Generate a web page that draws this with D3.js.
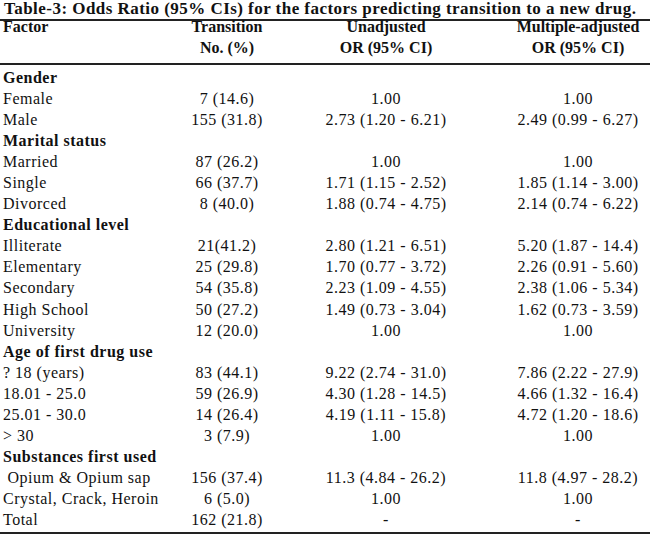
<!DOCTYPE html>
<html>
<head>
<meta charset="utf-8">
<script src="https://cdn.jsdelivr.net/npm/d3@7"></script>
<style>
  html, body { margin: 0; padding: 0; background: #fff; }
  text { font-family: "Liberation Serif", "Times New Roman", serif; fill: #111; white-space: pre; }
</style>
</head>
<body>
<svg id="tbl" width="650" height="539"></svg>
<script>
const title = 'Table-3: Odds Ratio (95% CIs) for the factors predicting transition to a new drug.';
const headTop = ['Factor', 'Transition', 'Unadjusted', 'Multiple-adjusted'];
const headBottom = ['', 'No. (%)', 'OR (95% CI)', 'OR (95% CI)'];
const groups = ['Gender', 'Marital status', 'Educational level', 'Age of first drug use', 'Substances first used'];
const factors = ['Gender', 'Female', 'Male', 'Marital status', 'Married', 'Single', 'Divorced',
  'Educational level', 'Illiterate', 'Elementary', 'Secondary', 'High School', 'University',
  'Age of first drug use', '? 18 (years)', '18.01 - 25.0', '25.01 - 30.0', '> 30',
  'Substances first used', ' Opium & Opium sap', 'Crystal, Crack, Heroin', 'Total'];
const transition = ['', '7 (14.6)', '155 (31.8)', '', '87 (26.2)', '66 (37.7)', '8 (40.0)',
  '', '21(41.2)', '25 (29.8)', '54 (35.8)', '50 (27.2)', '12 (20.0)',
  '', '83 (44.1)', '59 (26.9)', '14 (26.4)', '3 (7.9)',
  '', '156 (37.4)', '6 (5.0)', '162 (21.8)'];
const unadjusted = ['', '1.00', '2.73 (1.20 - 6.21)', '', '1.00', '1.71 (1.15 - 2.52)', '1.88 (0.74 - 4.75)',
  '', '2.80 (1.21 - 6.51)', '1.70 (0.77 - 3.72)', '2.23 (1.09 - 4.55)', '1.49 (0.73 - 3.04)', '1.00',
  '', '9.22 (2.74 - 31.0)', '4.30 (1.28 - 14.5)', '4.19 (1.11 - 15.8)', '1.00',
  '', '11.3 (4.84 - 26.2)', '1.00', '-'];
const adjusted = ['', '1.00', '2.49 (0.99 - 6.27)', '', '1.00', '1.85 (1.14 - 3.00)', '2.14 (0.74 - 6.22)',
  '', '5.20 (1.87 - 14.4)', '2.26 (0.91 - 5.60)', '2.38 (1.06 - 5.34)', '1.62 (0.73 - 3.59)', '1.00',
  '', '7.86 (2.22 - 27.9)', '4.66 (1.32 - 16.4)', '4.72 (1.20 - 18.6)', '1.00',
  '', '11.8 (4.97 - 28.2)', '1.00', '-'];

const svg = d3.select('#tbl');
const width = 650;
const fontSize = 16;

// row and column positions
const yScale = d3.scaleBand()
  .domain(d3.range(factors.length))
  .range([67, 531]);
const xScale = d3.scaleOrdinal()
  .domain([0, 1, 2, 3])
  .range([3, 227, 386, 578]);

// title
svg.append('text')
  .attr('x', 4)
  .attr('y', 14)
  .attr('font-size', 17)
  .attr('font-weight', 'bold')
  .attr('textLength', 632)
  .attr('lengthAdjust', 'spacing')
  .text(title);

// rules
[20, 64, 533].forEach(y => {
  svg.append('line')
    .attr('x1', 0).attr('x2', width)
    .attr('y1', y).attr('y2', y)
    .attr('stroke', '#222')
    .attr('stroke-width', 2);
});

// header
const head = svg.append('g').attr('font-weight', 'bold').attr('font-size', fontSize);
headTop.forEach((h, i) => {
  head.append('text')
    .attr('x', xScale(i))
    .attr('y', 32)
    .attr('text-anchor', i === 0 ? 'start' : 'middle')
    .text(h);
  head.append('text')
    .attr('x', xScale(i))
    .attr('y', 53)
    .attr('text-anchor', i === 0 ? 'start' : 'middle')
    .text(headBottom[i]);
});

// body
const body = svg.append('g').attr('font-size', fontSize).attr('letter-spacing', 0.5);
const rows = body.selectAll('g.row')
  .data(factors.map((f, i) => ({ f, i })))
  .enter()
  .append('g')
  .attr('class', 'row')
  .attr('transform', d => `translate(0, ${yScale(d.i) + yScale.bandwidth() / 2 + 5})`);

rows.append('text')
  .attr('x', xScale(0))
  .attr('font-weight', d => groups.includes(d.f) ? 'bold' : 'normal')
  .text(d => d.f);

[transition, unadjusted, adjusted].forEach((col, c) => {
  rows.append('text')
    .attr('x', xScale(c + 1))
    .attr('text-anchor', 'middle')
    .text(d => col[d.i]);
});
</script>
</body>
</html>
